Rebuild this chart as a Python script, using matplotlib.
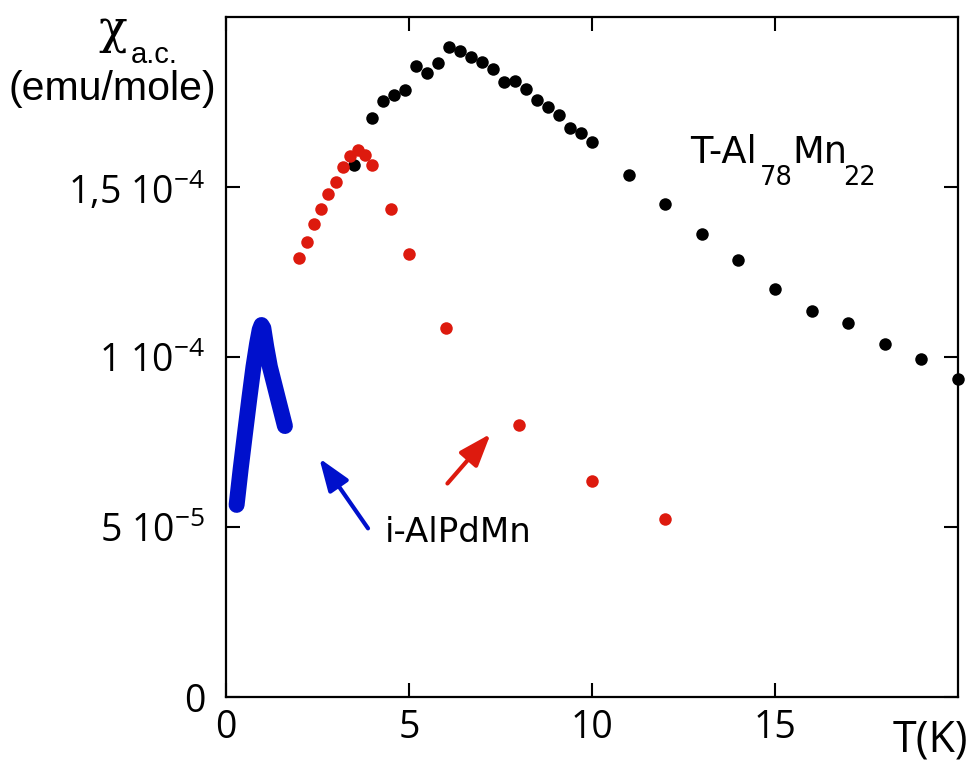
import matplotlib
matplotlib.use("Agg")
import matplotlib.pyplot as plt

plt.rcParams['mathtext.fontset'] = 'custom'
plt.rcParams['mathtext.rm'] = 'Open Sans'
plt.rcParams['mathtext.it'] = 'Open Sans'
plt.rcParams['font.family'] = ['Open Sans', 'DejaVu Sans']

# ---- data ----
T_black = [3.5, 4.0, 4.3, 4.6, 4.9, 5.2, 5.5, 5.8, 6.1, 6.4, 6.7, 7.0, 7.3, 7.6, 7.9,
           8.2, 8.5, 8.8, 9.1, 9.4, 9.7, 10.0, 11, 12, 13, 14, 15, 16, 17, 18, 19, 20]
chi_black = [1.565e-4, 1.702e-4, 1.754e-4, 1.771e-4, 1.785e-4, 1.856e-4, 1.835e-4,
             1.864e-4, 1.911e-4, 1.901e-4, 1.881e-4, 1.868e-4, 1.848e-4, 1.808e-4,
             1.812e-4, 1.787e-4, 1.757e-4, 1.736e-4, 1.713e-4, 1.674e-4, 1.659e-4,
             1.633e-4, 1.535e-4, 1.450e-4, 1.363e-4, 1.284e-4, 1.201e-4, 1.135e-4,
             1.101e-4, 1.037e-4, 0.994e-4, 0.936e-4]

T_red = [2.0, 2.2, 2.4, 2.6, 2.8, 3.0, 3.2, 3.4, 3.6, 3.8, 4.0, 4.5, 5.0, 6.0, 8.0, 10.0, 12.0]
chi_red = [1.291e-4, 1.337e-4, 1.390e-4, 1.434e-4, 1.479e-4, 1.515e-4, 1.560e-4,
           1.591e-4, 1.610e-4, 1.595e-4, 1.564e-4, 1.436e-4, 1.304e-4, 1.084e-4,
           0.801e-4, 0.635e-4, 0.524e-4]

T_blue = [0.29, 0.40, 0.52, 0.64, 0.75, 0.85, 0.92, 0.97, 1.02, 1.10, 1.20, 1.32, 1.43, 1.52, 1.61]
chi_blue = [5.65e-5, 6.70e-5, 7.76e-5, 8.80e-5, 9.71e-5, 1.040e-4, 1.080e-4, 1.094e-4,
            1.085e-4, 1.030e-4, 9.71e-5, 9.20e-5, 8.73e-5, 8.35e-5, 7.97e-5]

xticks = [0, 5, 10, 15]
xtick_labels = ['0', '5', '10', '15']
yticks = [0, 5e-5, 1e-4, 1.5e-4]
ytick_labels = ['0', r'5 10$^{\mathrm{-5}}$', r'1 10$^{\mathrm{-4}}$', r'1,5 10$^{\mathrm{-4}}$']

# arrows (tail -> tip) in data coords
red_arrow = ((6.05, 6.28e-5), (7.23, 7.74e-5))
blue_arrow = ((3.88, 4.96e-5), (2.55, 7.02e-5))

RED = '#dd1a0e'
BLUE = '#0010cc'

W, H = 975, 764
fig = plt.figure(figsize=(9.75, 7.64), dpi=100)
ax = fig.add_axes([226/W, 1-697/H, (958-226)/W, (697-17)/H])
ax.set_xlim(0, 20)
ax.set_ylim(0, 2e-4)

ax.plot(T_black, chi_black, 'o', color='black', ms=9, mew=0, clip_on=False, zorder=3)
ax.plot(T_red, chi_red, 'o', color=RED, ms=9, mew=0, clip_on=False, zorder=4)
ax.plot(T_blue, chi_blue, '-', color=BLUE, lw=11.5, solid_capstyle='round',
        solid_joinstyle='round', zorder=5)

for (tail, tip), col in [(red_arrow, RED), (blue_arrow, BLUE)]:
    ax.annotate('', xy=tip, xytext=tail,
                arrowprops=dict(arrowstyle='-|>,head_length=1.1,head_width=0.4',
                                color=col, lw=3, mutation_scale=18,
                                shrinkA=0, shrinkB=0))

ax.set_xticks(xticks)
ax.set_xticklabels(xtick_labels, fontsize=27)
ax.set_yticks(yticks)
ax.set_yticklabels(ytick_labels, fontsize=27)
ax.tick_params(axis='both', direction='in', length=10, width=1.5,
               top=True, right=True)
ax.tick_params(axis='x', pad=9)
ax.tick_params(axis='y', pad=15)
for s in ax.spines.values():
    s.set_linewidth(1.6)

def ftext(x, y, s, **kw):
    fig.text(x/W, 1-y/H, s, **kw)

# T-Al78Mn22 label built from pieces
dj = dict(family='DejaVu Sans', ha='left', va='baseline')
ftext(690, 163, 'T-Al', fontsize=26.5, **dj)
ftext(760, 185, '78', fontsize=18.5, **dj)
ftext(792, 163, 'Mn', fontsize=26.5, **dj)
ftext(843, 185, '22', fontsize=18.5, **dj)

ftext(385, 542, 'i-AlPdMn', fontsize=24.5, **dj)
ftext(968, 740, 'T(K)', fontsize=31, ha='right', va='center', family='Open Sans')

# y-axis label
ftext(113, 43, '\u03c7', fontsize=34, ha='center', va='baseline', family='DejaVu Serif')
ftext(131, 63, 'a.c.', fontsize=21, ha='left', va='baseline', family='Liberation Sans')
ftext(112, 89, '(emu/mole)', fontsize=29.5, ha='center', va='center', family='Liberation Sans')

fig.savefig('out.png', dpi=100)
